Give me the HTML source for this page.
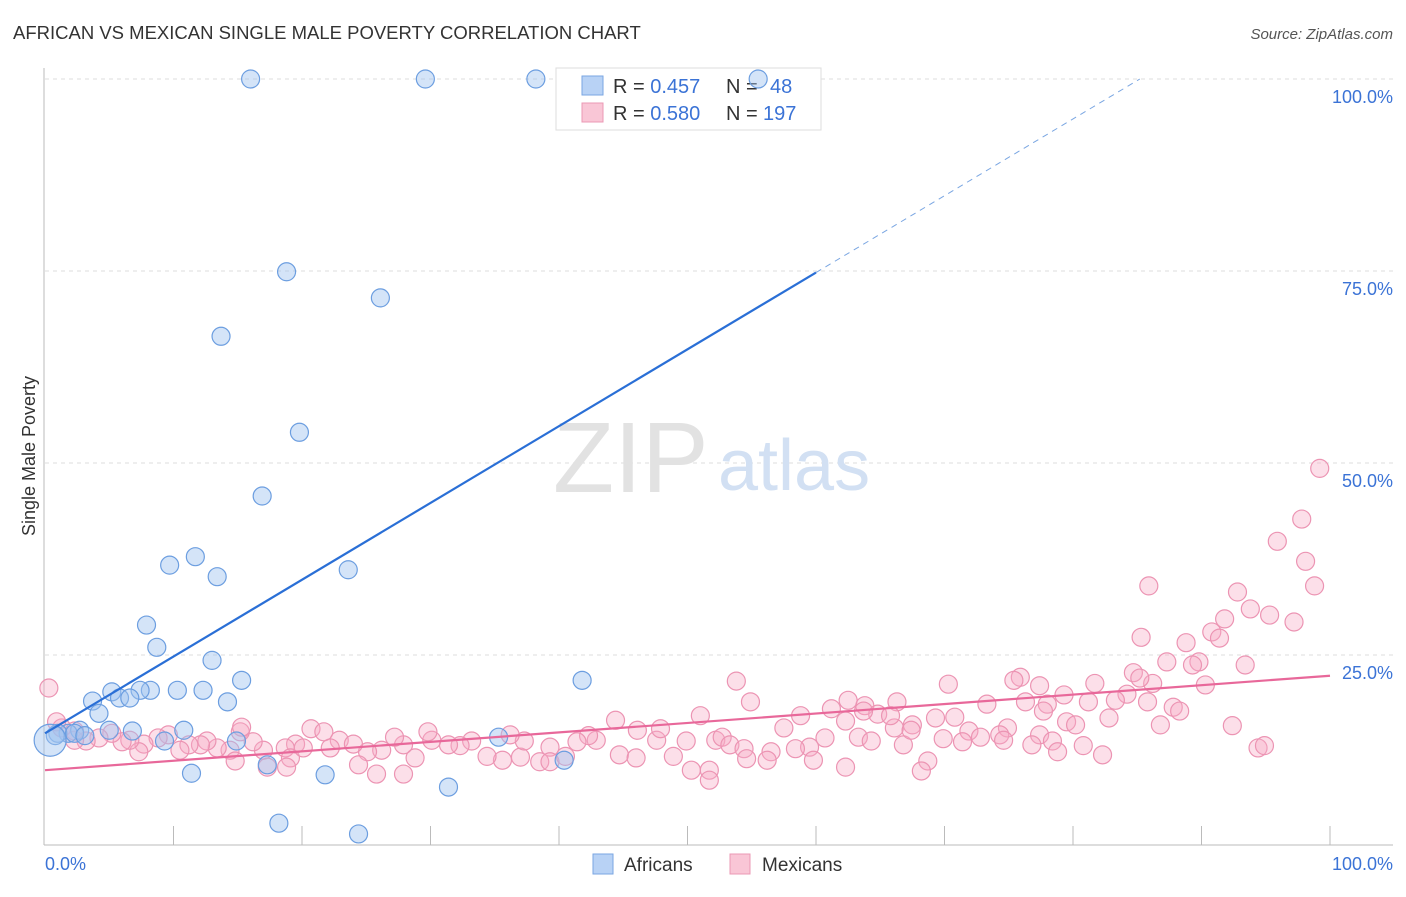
<!DOCTYPE html>
<html><head><meta charset="utf-8"><style>
body{margin:0;background:#fff;font-family:"Liberation Sans",sans-serif;}
svg text{font-family:"Liberation Sans",sans-serif;}
</style></head><body>
<svg id="chart" width="1406" height="892">
<text x="13" y="39" font-size="18.5" fill="#333">AFRICAN VS MEXICAN SINGLE MALE POVERTY CORRELATION CHART</text>
<text x="1393" y="39" font-size="15" fill="#555" font-style="italic" text-anchor="end">Source: ZipAtlas.com</text>
<g id="grid"></g>
<text x="553" y="492" font-size="100" fill="#e2e2e2" font-family="Liberation Serif,serif">ZIP</text>
<text x="718" y="490" font-size="72" fill="#d2e0f3">atlas</text>
<g>
<rect x="556" y="68" width="265" height="62" fill="#fff" stroke="#ddd"/>
<rect x="582" y="76" width="21" height="19" fill="#b8d2f5" stroke="#7aa6e2"/>
<rect x="582" y="103" width="21" height="19" fill="#f9c6d6" stroke="#eb98b4"/>
<text x="613" y="93" font-size="20" fill="#333">R = <tspan fill="#3b73d6">0.457</tspan><tspan x="726">N = </tspan><tspan x="770" fill="#3b73d6">48</tspan></text>
<text x="613" y="120" font-size="20" fill="#333">R = <tspan fill="#3b73d6">0.580</tspan><tspan x="726">N = </tspan><tspan x="763" fill="#3b73d6">197</tspan></text>
</g>
<g id="marks"></g>
<text transform="translate(35,456) rotate(-90)" font-size="18" fill="#333" text-anchor="middle">Single Male Poverty</text>
<text x="45" y="870" font-size="18" fill="#3b73d6">0.0%</text>
<text x="1393" y="870" font-size="18" fill="#3b73d6" text-anchor="end">100.0%</text>
<g><rect x="593" y="854" width="20" height="20" fill="#b8d2f5" stroke="#7aa6e2"/><text x="624" y="871" font-size="19" fill="#333">Africans</text></g>
<g><rect x="730" y="854" width="20" height="20" fill="#f9c6d6" stroke="#eb98b4"/><text x="762" y="871" font-size="19" fill="#333">Mexicans</text></g>
</svg>
<script>
const yTicks=[25,50,75,100];
const yTickLabels=["25.0%","50.0%","75.0%","100.0%"];
const xTicks=[10,20,30,40,50,60,70,80,90,100];
const africanX=[16.0,29.6,38.2,55.5,18.8,26.1,13.7,19.8,16.9,11.7,9.7,13.4,23.6,7.9,8.7,13.0,15.3,5.2,8.2,10.3,12.3,7.4,5.8,3.7,14.2,4.2,10.8,6.8,5.0,2.7,1.8,1.0,14.9,9.3,35.3,41.8,17.3,40.4,11.4,21.8,31.4,18.2,24.4,0.8,2.3,3.1,6.6,0.4];
const africanY=[100,100,100,100,74.9,71.5,66.5,54.0,45.7,37.8,36.7,35.2,36.1,28.9,26.0,24.3,21.7,20.2,20.4,20.4,20.4,20.4,19.4,19.0,18.9,17.4,15.2,15.1,15.2,15.2,14.8,14.8,13.8,13.8,14.3,21.7,10.7,11.3,9.6,9.4,7.8,3.1,1.7,14.5,14.8,14.5,19.4,13.9];
const mexicanX=[0.3,99.2,97.8,95.9,98.1,98.8,85.9,92.8,93.8,95.3,91.8,97.2,90.8,85.3,88.8,91.4,87.3,89.8,89.3,93.4,84.7,75.9,75.4,86.2,90.3,81.7,70.3,53.8,77.4,79.3,84.2,83.3,76.3,78.0,81.2,87.8,88.3,54.9,66.3,63.8,61.2,64.8,73.3,70.8,51.0,58.8,62.3,69.3,82.8,79.5,80.2,67.5,86.8,92.4,57.5,44.4,66.1,74.9,71.9,77.4,74.3,72.8,69.9,71.4,74.6,63.3,64.3,60.7,59.5,58.4,56.5,66.8,76.8,78.4,80.8,78.8,82.3,94.4,94.9,68.7,68.2,62.3,59.8,56.2,51.7,50.3,51.7,48.9,47.6,46.1,47.9,49.9,52.2,52.7,53.3,54.4,44.7,46.0,42.9,42.3,41.4,39.3,37.0,38.5,35.6,34.4,37.3,36.2,33.2,32.3,31.4,30.1,29.8,28.8,27.9,27.2,26.2,25.1,24.4,25.8,27.9,22.9,24.0,20.7,21.7,19.5,18.7,22.2,17.0,16.2,15.2,15.3,14.4,13.4,12.6,12.1,11.2,10.5,9.6,8.8,7.7,7.3,6.6,6.0,5.2,4.2,3.2,2.3,1.3,0.9,2.3,14.8,17.3,19.1,18.8,20.1,39.3,40.5,62.5,63.7,65.8,67.4,77.7,85.8,85.2,54.6];
const mexicanY=[20.7,49.3,42.7,39.8,37.2,34.0,34.0,33.2,31.0,30.2,29.7,29.3,28.0,27.3,26.6,27.2,24.1,24.1,23.7,23.7,22.7,22.1,21.7,21.3,21.1,21.3,21.2,21.6,21.0,19.8,19.9,19.1,18.9,18.6,18.9,18.2,17.7,18.9,18.9,18.4,18.0,17.3,18.6,16.9,17.1,17.1,16.4,16.8,16.8,16.3,15.9,15.9,15.9,15.8,15.5,16.5,15.5,15.5,15.1,14.6,14.6,14.3,14.1,13.7,13.9,14.3,13.8,14.2,13.0,12.8,12.4,13.3,13.3,13.8,13.2,12.4,12.0,12.9,13.2,11.2,9.9,10.4,11.3,11.3,10.0,10.0,8.7,11.8,13.9,15.2,15.4,13.8,13.9,14.3,13.3,12.8,12.0,11.6,13.9,14.5,13.7,13.0,11.7,11.1,11.3,11.8,13.8,14.6,13.8,13.2,13.3,13.9,15.0,11.6,13.3,14.3,12.6,12.4,10.7,9.5,9.5,13.9,13.4,15.4,15.0,13.4,12.9,12.9,12.6,13.7,15.0,15.6,12.6,12.9,13.8,13.3,13.3,12.6,14.6,14.2,13.4,12.4,13.9,13.7,14.8,14.2,13.8,13.9,15.5,16.3,15.1,11.2,10.4,11.6,10.4,12.9,11.1,11.8,19.1,17.7,17.1,15.2,17.7,18.9,22.0,11.5];
const africanFit=[14.8,1.0];
const mexicanFit=[10.0,0.123];
const X0=45,X1=1330,Y0=847,Y100=79;
const sx=v=>X0+(X1-X0)*v/100;
const sy=v=>Y0-(Y0-Y100)*v/100;
const NS="http://www.w3.org/2000/svg";
function mk(tag,attrs,parent){const e=document.createElementNS(NS,tag);for(const k in attrs)e.setAttribute(k,attrs[k]);parent.appendChild(e);return e;}
const grid=document.getElementById('grid'),marks=document.getElementById('marks');
yTicks.forEach((t,i)=>{
  const l=mk('line',{x1:X0,x2:1393,y1:sy(t),y2:sy(t),stroke:'#ddd','stroke-dasharray':'4,4'},grid);
  
  
  const tx=mk('text',{x:1393,y:sy(t)+24,'font-size':18,fill:'#3b73d6','text-anchor':'end'},grid);
  tx.textContent=yTickLabels[i];
  
  
});
const ax=mk('line',{x1:44,x2:44,y1:68,y2:845,stroke:'#bbb'},grid);


const bx=mk('line',{x1:44,x2:1393,y1:845,y2:845,stroke:'#bbb'},grid);


xTicks.forEach(t=>{
  const l=mk('line',{x1:sx(t),x2:sx(t),y1:826,y2:845,stroke:'#bbb'},grid);
  
  
});
mexicanX.forEach((x,i)=>{
  const c=mk('circle',{cx:sx(x),cy:sy(mexicanY[i]),r:9,fill:'rgba(246,170,197,0.38)',stroke:'#ec94b3','stroke-width':1.2},marks);
  
  
});
africanX.forEach((x,i)=>{
  const big=i===africanX.length-1;
  const c=mk('circle',{cx:sx(x),cy:sy(africanY[i]),r:big?16:9,fill:'rgba(160,196,240,0.45)',stroke:'#6c9ee0','stroke-width':1.2},marks);
  
  
});
const yb=x=>africanFit[0]+africanFit[1]*x;
const ym=x=>mexicanFit[0]+mexicanFit[1]*x;
const l1=mk('line',{x1:sx(0),y1:sy(yb(0)),x2:sx(60),y2:sy(yb(60)),stroke:'#2a6fd6','stroke-width':2.2},marks);


const l2=mk('line',{x1:sx(60),y1:sy(yb(60)),x2:sx(85.2),y2:sy(yb(85.2)),stroke:'#7aa6e2','stroke-width':1,'stroke-dasharray':'6,5'},marks);


const l3=mk('line',{x1:sx(0),y1:sy(ym(0)),x2:sx(100),y2:sy(ym(100)),stroke:'#e8689a','stroke-width':2.2},marks);


</script>
</body></html>
